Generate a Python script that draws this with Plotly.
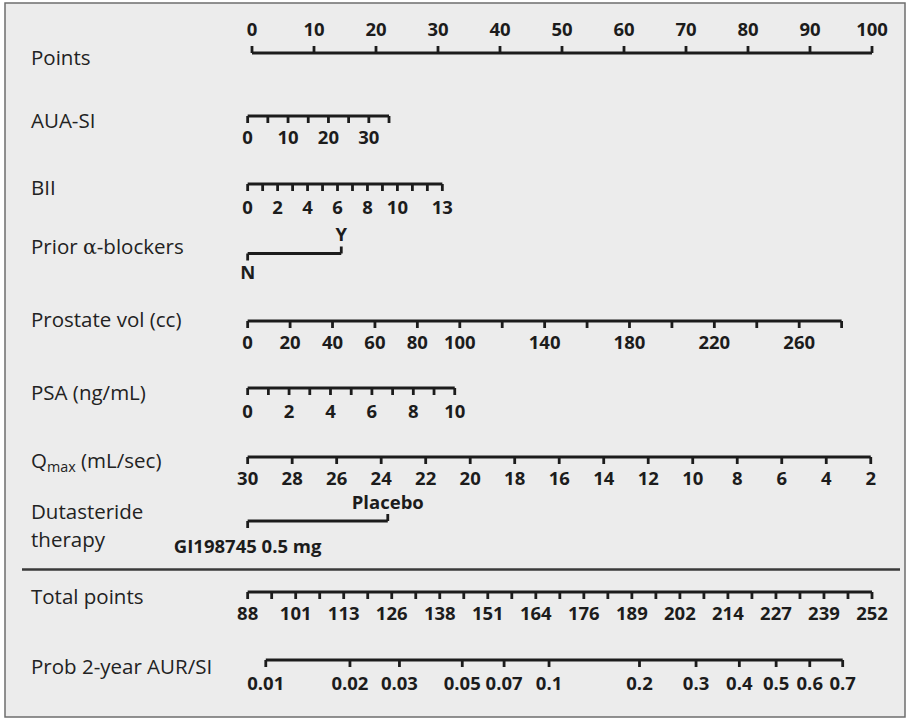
import numpy as np
import plotly.graph_objects as go

# ---------------- data ----------------
points_ticks = [0, 10, 20, 30, 40, 50, 60, 70, 80, 90, 100]

aua_ticks = [0, 5, 10, 15, 20, 25, 30, 35]
aua_labels = [0, 10, 20, 30]
aua_range, aua_pts = [0, 35], [-0.7, 22.1]

bii_ticks = [0, 1, 2, 3, 4, 5, 6, 7, 8, 9, 10, 11, 12, 13]
bii_labels = [0, 2, 4, 6, 8, 10, 13]
bii_range, bii_pts = [0, 13], [-0.7, 30.7]

alpha_levels = ["N", "Y"]
alpha_pts = [-0.7, 14.4]

prostate_ticks = [0, 20, 40, 60, 80, 100, 120, 140, 160, 180, 200, 220, 240, 260, 280]
prostate_labels = [0, 20, 40, 60, 80, 100, 140, 180, 220, 260]
prostate_range, prostate_pts = [0, 280], [-0.7, 95.1]

psa_ticks = [0, 1, 2, 3, 4, 5, 6, 7, 8, 9, 10]
psa_labels = [0, 2, 4, 6, 8, 10]
psa_range, psa_pts = [0, 10], [-0.7, 32.7]

qmax_ticks = [30, 28, 26, 24, 22, 20, 18, 16, 14, 12, 10, 8, 6, 4, 2]
qmax_range, qmax_pts = [30, 2], [-0.7, 99.8]

dut_levels = ["GI198745 0.5 mg", "Placebo"]
dut_pts = [-0.7, 21.9]

total_labels = [88, 101, 113, 126, 138, 151, 164, 176, 189, 202, 214, 227, 239, 252]
total_range, total_pts = [88, 252], [-0.7, 100.0]

prob_ticks = [0.01, 0.02, 0.03, 0.05, 0.07, 0.1, 0.2, 0.3, 0.4, 0.5, 0.6, 0.7]
prob_tick_text = ["0.01", "0.02", "0.03", "0.05", "0.07", "0.1", "0.2", "0.3", "0.4", "0.5", "0.6", "0.7"]
prob_anchor_p, prob_anchor_total = [0.01, 0.7], [92.76, 244.3]

row_names = ["Points", "AUA-SI", "BII",
             "Prior <span style='font-family:DejaVu Serif'>\u03b1</span>-blockers",
             "Prostate vol (cc)", "PSA (ng/mL)", "Q<sub>max</sub> (mL/sec)",
             "Dutasteride", "therapy", "Total points", "Prob 2-year AUR/SI"]

# ---------------- layout (pixel geometry) ----------------
W, H = 909, 720
PX0, PXPT = 252.0, 6.2          # pixel of points=0 and pixels per point


def px2pt(px):
    return (px - PX0) / PXPT


def lin(v, r, p):
    return p[0] + (v - r[0]) * (p[1] - p[0]) / (r[1] - r[0])


def cloglog(p):
    return np.log(-np.log(1 - np.asarray(p, dtype=float)))


INK = "#1c1c1c"
TICK = 7
line_x, line_y = [], []
tick_x, tick_y = [], []
txt_x, txt_y, txt_s = [], [], []


def seg(x0, x1, y, store_x, store_y, y1=None):
    store_x.extend([x0, x1, None])
    store_y.extend([y, y if y1 is None else y1, None])


def axis(xs, y, dy):
    seg(min(xs), max(xs), y, line_x, line_y)
    for x in xs:
        seg(x, x, y, tick_x, tick_y, y1=y + dy)


def labels(xs, texts, y):
    for x, t in zip(xs, texts):
        txt_x.append(x)
        txt_y.append(y)
        txt_s.append(str(t))


# Points
axis(points_ticks, 53, -TICK)
labels(points_ticks, points_ticks, 31)

# AUA-SI
axis([lin(v, aua_range, aua_pts) for v in aua_ticks], 116, TICK)
labels([lin(v, aua_range, aua_pts) for v in aua_labels], aua_labels, 139)

# BII
axis([lin(v, bii_range, bii_pts) for v in bii_ticks], 184, TICK)
labels([lin(v, bii_range, bii_pts) for v in bii_labels], bii_labels, 209)

# Prior alpha-blockers
ya = 253.5
seg(alpha_pts[0], alpha_pts[1], ya, line_x, line_y)
seg(alpha_pts[0], alpha_pts[0], ya, tick_x, tick_y, y1=ya + TICK)
seg(alpha_pts[1], alpha_pts[1], ya, tick_x, tick_y, y1=ya - TICK)
labels([alpha_pts[0]], [alpha_levels[0]], 274)
labels([alpha_pts[1]], [alpha_levels[1]], 236)

# Prostate vol
axis([lin(v, prostate_range, prostate_pts) for v in prostate_ticks], 321, TICK)
labels([lin(v, prostate_range, prostate_pts) for v in prostate_labels], prostate_labels, 344)

# PSA
axis([lin(v, psa_range, psa_pts) for v in psa_ticks], 388, TICK)
labels([lin(v, psa_range, psa_pts) for v in psa_labels], psa_labels, 413)

# Qmax
axis([lin(v, qmax_range, qmax_pts) for v in qmax_ticks], 457, TICK)
labels([lin(v, qmax_range, qmax_pts) for v in qmax_ticks], qmax_ticks, 480)

# Dutasteride therapy
yd = 521
seg(dut_pts[0], dut_pts[1], yd, line_x, line_y)
seg(dut_pts[0], dut_pts[0], yd, tick_x, tick_y, y1=yd + TICK)
seg(dut_pts[1], dut_pts[1], yd, tick_x, tick_y, y1=yd - TICK)
labels([dut_pts[0]], [dut_levels[0]], 548)
labels([dut_pts[1]], [dut_levels[1]], 504)

# Total points (minor tick between every pair of labels)
total_tick_vals = np.linspace(total_range[0], total_range[1], 2 * len(total_labels) - 1)
axis([lin(v, total_range, total_pts) for v in total_tick_vals], 592, TICK)
labels([lin(v, total_range, total_pts) for v in total_tick_vals[::2]], total_labels, 615)

# Probability (complementary log-log scale on total points)
c0, c1 = cloglog(prob_anchor_p)
prob_total = [prob_anchor_total[0] + (cloglog(p) - c0) * (prob_anchor_total[1] - prob_anchor_total[0]) / (c1 - c0)
              for p in prob_ticks]
prob_x = [lin(t, total_range, total_pts) for t in prob_total]
axis(prob_x, 660, TICK)
labels(prob_x, prob_tick_text, 685)

fig = go.Figure()
fig.add_trace(go.Scatter(x=line_x, y=line_y, mode="lines",
                         line=dict(color=INK, width=3.2), hoverinfo="skip"))
fig.add_trace(go.Scatter(x=tick_x, y=tick_y, mode="lines",
                         line=dict(color=INK, width=2.8), hoverinfo="skip"))
fig.add_trace(go.Scatter(x=txt_x, y=txt_y, mode="text", text=txt_s,
                         textposition="middle center",
                         textfont=dict(family="Open Sans", size=18.5, color=INK, weight=700),
                         hoverinfo="skip"))

row_label_y = [57, 120, 187, 246, 319, 392, 461, 511, 539, 596, 666]
annotations = []
for name, y in zip(row_names, row_label_y):
    annotations.append(dict(x=px2pt(29), y=y, xref="x", yref="y", text=name,
                            showarrow=False, xanchor="left", yanchor="middle", align="left",
                            font=dict(family="Open Sans", size=20.5, color="#222222")))

shapes = [
    dict(type="rect", xref="paper", yref="paper", x0=5 / W, x1=905 / W, y0=1 - 717 / H, y1=1 - 3 / H,
         line=dict(color="#6e6e6e", width=1.5), fillcolor="#ececec", layer="below"),
    dict(type="line", xref="x", yref="y", x0=px2pt(22), x1=px2pt(900), y0=569.5, y1=569.5,
         line=dict(color="#3a3a3a", width=2.5)),
]

fig.update_layout(
    width=W, height=H, margin=dict(l=0, r=0, t=0, b=0),
    paper_bgcolor="white", plot_bgcolor="rgba(0,0,0,0)",
    showlegend=False,
    xaxis=dict(range=[px2pt(0), px2pt(W)], visible=False, fixedrange=True),
    yaxis=dict(range=[H, 0], visible=False, fixedrange=True),
    annotations=annotations, shapes=shapes,
)

fig.write_html("out.html", config={"displayModeBar": False},
               post_script="document.body.style.margin='0px';")
